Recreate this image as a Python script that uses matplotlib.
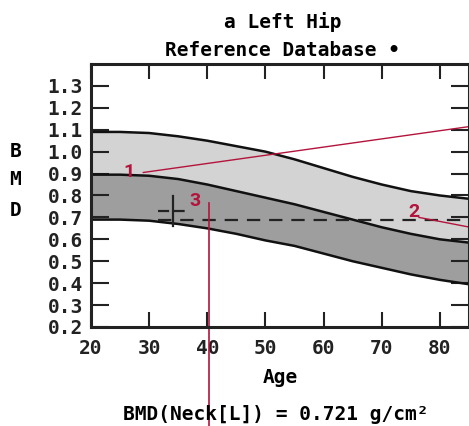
"""Left hip BMD reference chart with the patient point and callouts."""

import matplotlib
matplotlib.use("Agg")
import matplotlib.pyplot as plt
import matplotlib.transforms as mtransforms

# reference curves
ages = [20, 25, 30, 35, 40, 45, 50, 55, 60, 65, 70, 75, 80, 85]
upper = [1.09, 1.09, 1.085, 1.07, 1.05, 1.025, 1.0, 0.965, 0.925, 0.885, 0.85, 0.82, 0.8, 0.785]
middle = [0.895, 0.895, 0.89, 0.875, 0.85, 0.82, 0.79, 0.76, 0.725, 0.69, 0.655, 0.625, 0.6, 0.585]
lower = [0.69, 0.69, 0.685, 0.67, 0.65, 0.625, 0.595, 0.57, 0.535, 0.5, 0.47, 0.44, 0.415, 0.395]

patient_age = 34.1
patient_bmd = 0.727
ref_line_bmd = 0.69
ref_line_start = 31.6

x_ticks = [20, 30, 40, 50, 60, 70, 80]
y_ticks = [0.2, 0.3, 0.4, 0.5, 0.6, 0.7, 0.8, 0.9, 1.0, 1.1, 1.2, 1.3]

# red callouts: label, label position, line start, line end
callout_labels = ["1", "2", "3"]
callout_text_xy = [(26.6, 0.909), (75.5, 0.723), (37.9, 0.773)]
callout_line_from = [(29.0, 0.905), (76.4, 0.70)]
callout_line_to = [(85.2, 1.115), (85.2, 0.655)]
callout3_age = 40.3
callout3_top = 0.768

MONO = "DejaVu Sans Mono"
RED = "#b3143c"
FS = 14

fig = plt.figure(figsize=(4.69, 4.26), dpi=100)
ax = fig.add_axes([0.194, 0.2324, 0.806, 0.6174])

ax.fill_between(ages, middle, upper, color="#d3d3d3", lw=0)
ax.fill_between(ages, lower, middle, color="#9e9e9e", lw=0)
for curve in (upper, middle, lower):
    ax.plot(ages, curve, color="#111111", lw=1.8)

ax.plot([ref_line_start, 85], [ref_line_bmd, ref_line_bmd], color="#222222",
        lw=1.6, ls=(0, (6, 4)))
# crosshair on the measured point
ax.plot([patient_age - 2.6, patient_age + 2.6], [patient_bmd, patient_bmd],
        color="#222222", lw=1.6, ls=(0, (5, 2)))
ax.plot([patient_age, patient_age], [patient_bmd - 0.065, patient_bmd + 0.07],
        color="#222222", lw=1.6)

ax.set_xlim(20, 85)
ax.set_ylim(0.2, 1.4)
ax.set_xticks(x_ticks)
ax.set_yticks(y_ticks)
ax.set_xticklabels([str(t) for t in x_ticks], fontfamily=MONO, fontweight="bold", fontsize=FS)
ax.set_yticklabels([f"{t:.1f}" for t in y_ticks], fontfamily=MONO, fontweight="bold", fontsize=FS)
ax.tick_params(axis="x", direction="in", length=11, width=1.5, top=True, pad=9, colors="#222222")
ax.tick_params(axis="y", direction="in", length=13, width=1.5, right=True, pad=6, colors="#222222")
for spine in ax.spines.values():
    spine.set_linewidth(2.2)
    spine.set_color("#222222")

ax.set_xlabel("Age", fontfamily=MONO, fontweight="bold", fontsize=FS, labelpad=7)
for letter, y in zip("BMD", [1.0, 0.875, 0.73]):
    ax.text(-0.2, y, letter, transform=mtransforms.blended_transform_factory(ax.transAxes, ax.transData),
            fontfamily=MONO, fontweight="bold", fontsize=FS, ha="center", va="center")

fig.text(0.603, 0.948, "a Left Hip", fontfamily=MONO, fontweight="bold", fontsize=FS,
         ha="center", va="center")
fig.text(0.603, 0.882, "Reference Database •", fontfamily=MONO, fontweight="bold", fontsize=FS,
         ha="center", va="center")
fig.text(0.589, 0.026, "BMD(Neck[L]) = 0.721 g/cm²", fontfamily=MONO, fontweight="bold",
         fontsize=FS, ha="center", va="center")

for (x0, y0), (x1, y1) in zip(callout_line_from, callout_line_to):
    ax.plot([x0, x1], [y0, y1], color=RED, lw=1, clip_on=False)
blend = mtransforms.blended_transform_factory(ax.transData, fig.transFigure)
top_fig = fig.transFigure.inverted().transform(ax.transData.transform((callout3_age, callout3_top)))[1]
ax.plot([callout3_age, callout3_age], [top_fig, 0], color=RED, lw=1.2,
        transform=blend, clip_on=False)
for label, (x, y) in zip(callout_labels, callout_text_xy):
    ax.text(x, y, label, color=RED, fontfamily="Roboto", fontweight="bold", fontsize=14,
            ha="center", va="center")

fig.savefig("out.png", dpi=100)
